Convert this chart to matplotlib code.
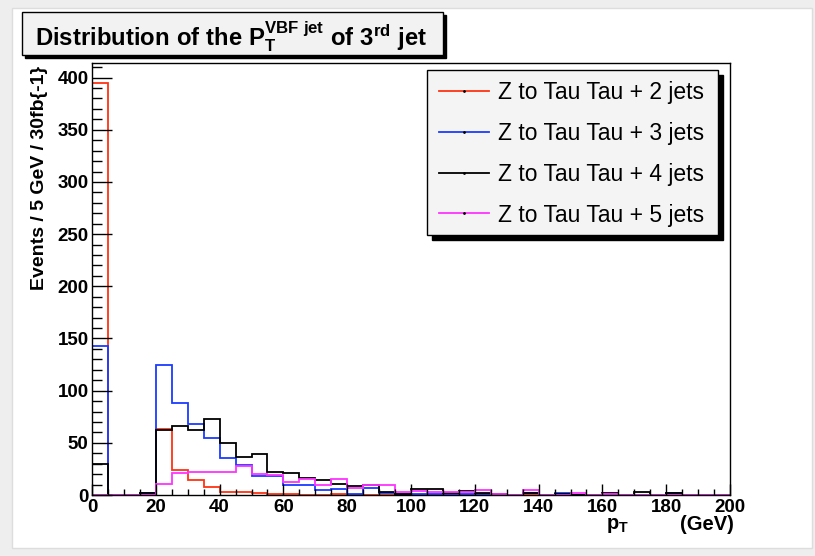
import numpy as np
import matplotlib
matplotlib.use("Agg")
import matplotlib.pyplot as plt
from matplotlib.patches import Rectangle
from matplotlib.lines import Line2D
from matplotlib.ticker import MultipleLocator

plt.rcParams['font.family'] = ['Liberation Sans', 'DejaVu Sans']
plt.rcParams['mathtext.fontset'] = 'custom'
plt.rcParams['mathtext.rm'] = 'Liberation Sans:bold'
plt.rcParams['mathtext.it'] = 'Liberation Sans:bold'
plt.rcParams['mathtext.bf'] = 'Liberation Sans:bold'

# 5 GeV bins from 0 to 200
bin_edges = np.arange(0, 205, 5)

jets2 = [395, 0, 0, 0, 63, 24, 14, 8, 3, 3,
         2, 1, 1, 0, 0, 1, 0, 0, 0, 0,
         0, 0, 0, 0, 0, 0, 0, 0, 0, 0,
         0, 0, 0, 0, 0, 0, 0, 0, 0, 0]
jets3 = [143, 0, 0, 2, 125, 88, 68, 55, 35, 29,
         18, 18, 10, 10, 5, 6, 1, 7, 2, 1,
         1, 1, 1, 1, 1, 0, 0, 2, 0, 1.5,
         0, 0, 0, 0, 0, 0, 2, 0, 0, 0]
jets4 = [30, 0, 0, 2, 62, 66, 62, 73, 50, 36,
         39, 22, 21, 16, 14, 11, 9, 10, 3, 1,
         6, 6, 2, 4, 2, 1, 0, 2, 0, 1,
         0, 0, 1.5, 0, 3, 0, 2, 0, 0, 0]
jets5 = [0, 0, 0, 0, 11, 21, 22, 22, 22, 28,
         20, 19, 12, 15, 10, 15, 7, 10, 10, 3,
         4, 3, 3, 3, 5, 1, 0, 5, 0, 0,
         2, 0, 1, 0, 0, 0, 0, 0, 0, 0]

labels = ['Z to Tau Tau + 2 jets', 'Z to Tau Tau + 3 jets',
          'Z to Tau Tau + 4 jets', 'Z to Tau Tau + 5 jets']
colors = ['#ff3311', '#1a3cff', 'black', '#ff33ff']

W, H = 815, 556
fig = plt.figure(figsize=(W / 100, H / 100), dpi=100, facecolor='#eeeeee')

def fx(px):
    return px / W

def fy(py):
    return 1 - py / H

# white canvas panel
fig.patches.append(Rectangle((fx(12), fy(548)), fx(800), 540 / H,
                             transform=fig.transFigure, facecolor='white',
                             edgecolor='#dddddd', lw=1, zorder=-10))

ax = fig.add_axes([fx(92), fy(495), fx(730 - 92), (495 - 63) / H])
ax.set_zorder(1)
for vals, c in zip([jets2, jets3, jets4, jets5], colors):
    ax.stairs(vals, bin_edges, color=c, lw=1.3)

ax.set_xlim(0, 200)
ax.set_ylim(0, 414)
ax.xaxis.set_major_locator(MultipleLocator(20))
ax.xaxis.set_minor_locator(MultipleLocator(5))
ax.yaxis.set_major_locator(MultipleLocator(50))
ax.yaxis.set_minor_locator(MultipleLocator(10))
ax.tick_params(axis='x', which='major', direction='in', length=8, width=1, pad=3,
               labelsize=13.5)
ax.tick_params(axis='x', which='minor', direction='in', length=4, width=1)
ax.tick_params(axis='y', which='major', direction='in', length=14.4, width=1, pad=2.5,
               labelsize=13.5)
ax.tick_params(axis='y', which='minor', direction='in', length=7.2, width=1)
for lab in ax.get_xticklabels() + ax.get_yticklabels():
    lab.set_fontweight('bold')
for s in ax.spines.values():
    s.set_linewidth(1)

# axis titles
fig.text(fx(40), fy(66), 'Events / 5 GeV / 30fb{-1}', rotation=90, ha='center',
         va='top', fontsize=14, fontweight='bold')
fig.text(fx(617), fy(529), r'$\mathrm{p_{T}}$', ha='center', va='baseline', fontsize=14.5)
fig.text(fx(734), fy(530), '(GeV)', ha='right', va='baseline', fontsize=14.5,
         fontweight='bold')

# title box with shadow
fig.patches.append(Rectangle((fx(25), fy(58)), fx(421), 43 / H, transform=fig.transFigure,
                             facecolor='black', edgecolor='black', zorder=5))
fig.patches.append(Rectangle((fx(22), fy(55)), fx(421), 43 / H, transform=fig.transFigure,
                             facecolor='#f2f2f2', edgecolor='black', lw=1, zorder=6))
fig.text(fx(231), fy(46), r'$\mathrm{Distribution\ of\ the\ P_{T}^{VBF\ jet}\ of\ 3^{rd}\ jet}$',
         ha='center', va='baseline', fontsize=17.2, zorder=7)

# legend box with shadow
fig.patches.append(Rectangle((fx(432), fy(240)), fx(291), 165 / H, transform=fig.transFigure,
                             facecolor='black', edgecolor='black', zorder=5))
fig.patches.append(Rectangle((fx(427), fy(235)), fx(291), 165 / H, transform=fig.transFigure,
                             facecolor='#f4f4f4', edgecolor='black', lw=1, zorder=6))
handles = [Line2D([], [], color=c, lw=1.3, marker='.', markersize=2,
                  markerfacecolor='black', markeredgecolor='black') for c in colors]
leg = fig.legend(handles, labels, loc='upper left', bbox_to_anchor=(fx(432), fy(74)),
                 frameon=False, fontsize=16.5, handlelength=2.2, handletextpad=0.4,
                 labelspacing=0.78, borderaxespad=0, borderpad=0.3)
leg.set_zorder(8)

fig.savefig('out.png', dpi=100, facecolor=fig.get_facecolor())
